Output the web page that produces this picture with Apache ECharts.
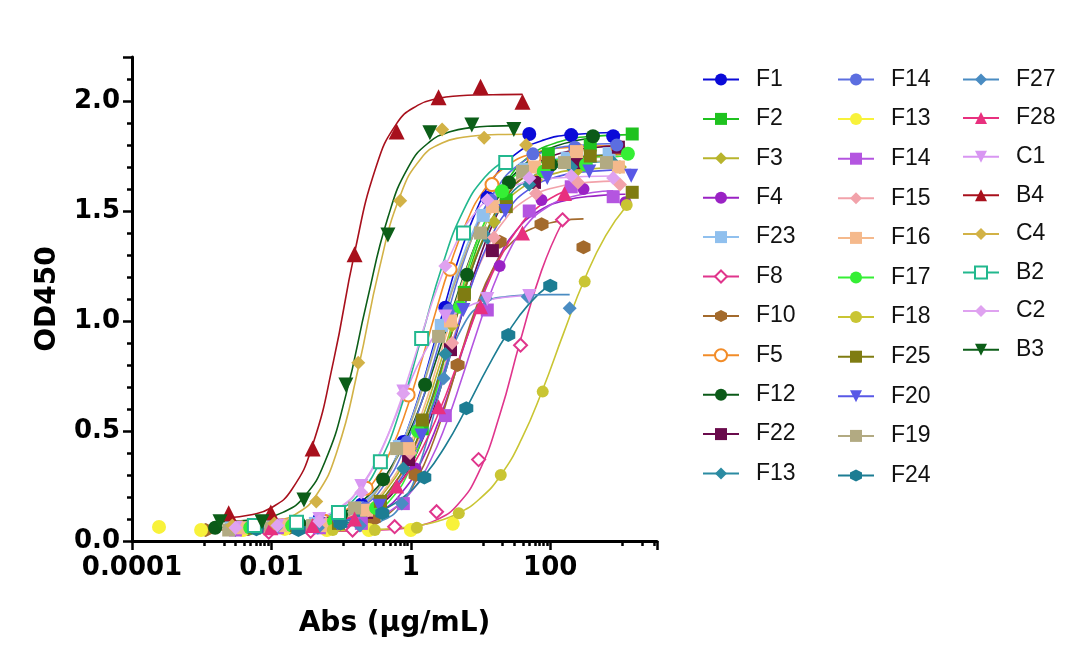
<!DOCTYPE html>
<html><head><meta charset="utf-8">
<script src="https://cdn.jsdelivr.net/npm/echarts@6/dist/echarts.min.js"></script>
<style>html,body{margin:0;padding:0;background:#fff}#c{width:1080px;height:667px}</style>
</head><body><div id="c"></div>
<script>
// ---- tick labels ----
const xTickValues = [0.0001, 0.01, 1, 100];
const xTickLabels = ['0.0001', '0.01', '1', '100'];
const yTickLabels = ['0.0', '0.5', '1.0', '1.5', '2.0'];

// ---- legend names (legend order, 3 columns) ----
const names = ['F1','F2','F3','F4','F23','F8','F10','F5','F12','F22','F13',
               'F14','F13','F14','F15','F16','F17','F18','F25','F20','F19','F24',
               'F27','F28','C1','B4','C4','B2','C2','B3'];

// ---- measured points: concentration (µg/mL) / OD450 ----
const F1_px  = [800,200,50,12.5,3.125,0.781,0.195,0.0488,0.0122,0.00305];
const F1_py  = [1.84,1.845,1.85,1.56,1.06,0.45,0.165,0.10,0.07,0.06];
const F2_px  = [1500,375,93.8,23.4,5.86,1.46,0.366,0.0916,0.0229,0.00572];
const F2_py  = [1.85,1.80,1.76,1.55,1.13,0.51,0.18,0.09,0.07,0.06];
const F3_px  = [1000,250,62.5,15.6,3.91,0.977,0.244,0.061,0.0153,0.0038];
const F3_py  = [1.70,1.69,1.64,1.45,0.98,0.42,0.14,0.08,0.07,0.06];
const F4_px  = [1200,300,75,18.8,4.69,1.17,0.293,0.0732,0.0183,0.00458];
const F4_py  = [1.54,1.60,1.55,1.25,0.80,0.33,0.12,0.07,0.06,0.05];
const F23_px = [700,175,43.8,10.9,2.73,0.684,0.171,0.0427,0.0107,0.00267];
const F23_py = [1.76,1.74,1.69,1.48,0.98,0.43,0.15,0.08,0.07,0.06];
const F8_px  = [150,37.5,9.38,2.34,0.586,0.146,0.0366,0.00916];
const F8_py  = [1.46,0.89,0.37,0.133,0.065,0.05,0.045,0.04];
const F10_px = [300,75,18.8,4.69,1.17,0.293,0.0732,0.0183,0.0046,0.00114];
const F10_py = [1.335,1.44,1.36,0.80,0.30,0.10,0.07,0.06,0.055,0.05];
const F5_px  = [937,234,58.6,14.6,3.66,0.915,0.229,0.0572,0.0143,0.00358];
const F5_py  = [1.79,1.78,1.74,1.62,1.235,0.664,0.24,0.09,0.07,0.06];
const F12_px = [410,103,25.6,6.4,1.6,0.4,0.1,0.025,0.00625,0.00156];
const F12_py = [1.84,1.71,1.63,1.21,0.71,0.28,0.12,0.08,0.07,0.06];
const F22_px = [950,238,59.4,14.8,3.71,0.928,0.232,0.058,0.0145,0.00362];
const F22_py = [1.79,1.72,1.63,1.32,0.87,0.37,0.13,0.08,0.07,0.06];
const F13a_px = [800,200,50,12.5,3.125,0.781,0.195,0.0488,0.0122,0.00305];
const F13a_py = [1.72,1.70,1.62,1.38,0.85,0.33,0.12,0.07,0.06,0.05];
const F14a_px = [900,225,56.3,14.1,3.52,0.879,0.22,0.0549,0.0137,0.00343];
const F14a_py = [1.80,1.79,1.76,1.55,1.05,0.45,0.15,0.08,0.07,0.06];
const F13b_px = [4,1,0.25,0.0625,0.0156,0.0039,0.00098,0.000244];
const F13b_py = [0.078,0.05,0.05,0.05,0.055,0.05,0.05,0.064];
const F14b_px = [800,200,50,12.5,3.125,0.781,0.195,0.0488,0.0122,0.00305];
const F14b_py = [1.565,1.61,1.50,1.05,0.57,0.17,0.08,0.06,0.06,0.05];
const F15_px = [1000,250,62.5,15.6,3.91,0.977,0.244,0.061,0.0153,0.0038];
const F15_py = [1.62,1.63,1.58,1.38,0.90,0.40,0.14,0.08,0.07,0.06];
const F16_px = [950,238,59.4,14.8,3.71,0.928,0.232,0.058,0.0145,0.00362];
const F16_py = [1.70,1.77,1.70,1.52,1.00,0.42,0.14,0.07,0.07,0.06];
const F17_px = [1300,325,81,20.3,5.08,1.27,0.317,0.0793,0.0198,0.00496];
const F17_py = [1.76,1.71,1.68,1.59,1.065,0.50,0.15,0.09,0.07,0.06];
const F18_px = [1250,312,78,19.5,4.88,1.22,0.305,0.076];
const F18_py = [1.527,1.179,0.679,0.30,0.126,0.06,0.05,0.05];
const F25_px = [1500,375,93.8,23.4,5.86,1.46,0.366,0.0916,0.0229,0.00572];
const F25_py = [1.585,1.75,1.72,1.52,1.12,0.55,0.18,0.08,0.07,0.06];
const F20_px = [1450,363,90.6,22.7,5.66,1.42,0.354,0.0885,0.0221,0.00553];
const F20_py = [1.66,1.68,1.65,1.50,1.05,0.48,0.16,0.08,0.07,0.06];
const F19_px = [640,160,40,10,2.5,0.625,0.156,0.039,0.00977,0.00244];
const F19_py = [1.72,1.72,1.68,1.40,0.93,0.42,0.15,0.07,0.06,0.05];
const F24_px = [100,25,6.25,1.56,0.39,0.098,0.0244,0.0061];
const F24_py = [1.16,0.936,0.603,0.289,0.126,0.08,0.05,0.053];
const F27_px = [190,47.5,11.9,2.97,0.742,0.186,0.0464,0.0116];
const F27_py = [1.058,1.11,1.103,0.74,0.17,0.07,0.06,0.06];
const F28_px = [160,40,10,2.5,0.625,0.156,0.039,0.0098];
const F28_py = [1.58,1.40,1.065,0.61,0.25,0.10,0.07,0.06];
const C1_px  = [50,12.5,3.125,0.781,0.195,0.0488,0.0122,0.00305];
const C1_py  = [1.114,1.10,1.02,0.68,0.25,0.10,0.07,0.06];
const B4_px  = [40,10,2.5,0.625,0.156,0.039,0.0098,0.00244];
const B4_py  = [1.997,2.065,2.017,1.861,1.303,0.421,0.129,0.126];
const C4_px  = [45,11.25,2.81,0.703,0.176,0.044,0.011,0.00275];
const C4_py  = [1.80,1.833,1.871,1.547,0.81,0.179,0.08,0.07];
const B2_px  = [23,5.7,1.43,0.366,0.0916,0.0229,0.0057];
const B2_py  = [1.72,1.40,0.92,0.36,0.13,0.085,0.07];
const C2_px  = [800,200,50,12.5,3.125,0.781,0.195,0.0488,0.0122,0.00305];
const C2_py  = [1.65,1.66,1.65,1.55,1.25,0.67,0.22,0.09,0.07,0.06];
const B3_px  = [30,7.5,1.875,0.469,0.117,0.0293,0.00732,0.00183];
const B3_py  = [1.871,1.891,1.856,1.391,0.709,0.186,0.088,0.088];

// ---- fitted curves ----
const F1_cx = [0.00305,0.0245,0.0775,0.1945,0.388,0.690,1.228,1.946,3.085,4.888,8.69,15.46,30.8,77.5,245,800];
const F1_cy = [0.060,0.071,0.099,0.165,0.270,0.418,0.633,0.847,1.073,1.287,1.502,1.650,1.755,1.821,1.849,1.857];
const F2_cx = [0.00572,0.039,0.1232,0.3097,0.618,1.099,1.955,3.098,4.91,7.78,13.84,24.6,49.1,123.3,390,1500];
const F2_cy = [0.060,0.071,0.099,0.164,0.268,0.416,0.630,0.842,1.068,1.280,1.494,1.642,1.746,1.811,1.839,1.847];
const F3_cx = [0.0038,0.031,0.098,0.246,0.491,0.874,1.554,2.462,3.903,6.18,11.0,19.56,39.0,98.0,310,1000];
const F3_cy = [0.060,0.070,0.096,0.155,0.251,0.386,0.582,0.777,0.983,1.178,1.374,1.509,1.605,1.664,1.690,1.697];
const F4_cx = [0.00458,0.049,0.155,0.389,0.777,1.381,2.456,3.892,6.17,9.78,17.39,30.9,61.7,154.9,490,1200];
const F4_cy = [0.050,0.060,0.084,0.139,0.228,0.354,0.537,0.719,0.911,1.093,1.276,1.402,1.491,1.546,1.570,1.576];
const F23_cx = [0.00267,0.023,0.0727,0.1826,0.3646,0.648,1.153,1.827,2.896,4.589,8.16,14.51,28.96,72.7,230,700];
const F23_cy = [0.060,0.071,0.097,0.159,0.258,0.398,0.601,0.803,1.017,1.219,1.422,1.562,1.661,1.723,1.749,1.757];
const F8_cx = [0.00916,0.0183,0.0366,0.073,0.146,0.293,0.586,1.17,2.34,4.69,9.38,18.75,37.5,75,150];
const F8_cy = [0.045,0.045,0.045,0.045,0.046,0.049,0.054,0.066,0.096,0.165,0.311,0.570,0.914,1.229,1.45];
const F10_cx = [0.00114,0.043,0.136,0.341,0.682,1.212,2.155,3.415,5.41,8.58,15.26,27.1,54.1,136,300];
const F10_cy = [0.050,0.054,0.066,0.101,0.168,0.279,0.461,0.654,0.866,1.059,1.241,1.352,1.419,1.454,1.464];
const F5_cx = [0.00358,0.018,0.0569,0.1429,0.2853,0.507,0.902,1.43,2.266,3.591,6.386,11.36,22.66,56.9,180,937];
const F5_cy = [0.061,0.071,0.098,0.161,0.263,0.406,0.614,0.820,1.040,1.246,1.454,1.597,1.699,1.762,1.789,1.798];
const F12_cx = [0.00156,0.0315,0.0995,0.25,0.499,0.888,1.579,2.502,3.966,6.284,11.18,19.88,39.7,99.6,410];
const F12_cy = [0.061,0.082,0.125,0.208,0.325,0.473,0.670,0.857,1.053,1.240,1.437,1.585,1.702,1.785,1.832];
const F22_cx = [0.00362,0.044,0.139,0.349,0.697,1.24,2.205,3.495,5.54,8.78,15.61,27.76,55.4,139.1,440,950];
const F22_cy = [0.060,0.071,0.098,0.161,0.263,0.406,0.614,0.820,1.040,1.246,1.454,1.597,1.699,1.762,1.789,1.795];
const F13a_cx = [0.00305,0.034,0.1074,0.27,0.539,0.958,1.704,2.701,4.281,6.783,12.06,21.45,42.8,107.5,340,800];
const F13a_cy = [0.050,0.061,0.087,0.148,0.246,0.384,0.585,0.784,0.996,1.195,1.396,1.534,1.632,1.693,1.719,1.726];
const F14a_cx = [0.00343,0.0275,0.0869,0.2184,0.436,0.775,1.378,2.184,3.462,5.486,9.757,17.35,34.6,86.96,275,900];
const F14a_cy = [0.060,0.071,0.098,0.162,0.264,0.408,0.617,0.825,1.045,1.253,1.462,1.606,1.708,1.772,1.799,1.807];
const F13b_cx = [];
const F13b_cy = [];
const F14b_cx = [0.00305,0.066,0.2086,0.524,1.046,1.86,3.308,5.242,8.31,13.17,23.42,41.6,83.1,208.7,800];
const F14b_cy = [0.050,0.060,0.084,0.140,0.230,0.358,0.544,0.727,0.923,1.106,1.292,1.420,1.510,1.566,1.592];
const F15_cx = [0.0038,0.0345,0.109,0.274,0.547,0.972,1.729,2.74,4.344,6.883,12.24,21.77,43.4,109.1,345,1000];
const F15_cy = [0.060,0.070,0.095,0.152,0.244,0.374,0.563,0.750,0.950,1.137,1.326,1.456,1.548,1.605,1.630,1.637];
const F16_cx = [0.00362,0.03,0.0948,0.2382,0.4755,0.845,1.504,2.383,3.777,5.985,10.64,18.93,37.8,94.9,300,950];
const F16_cy = [0.060,0.071,0.097,0.158,0.257,0.396,0.598,0.799,1.011,1.212,1.414,1.553,1.652,1.713,1.739,1.747];
const F17_cx = [0.00496,0.035,0.1106,0.278,0.555,0.986,1.754,2.78,4.407,6.983,12.42,22.09,44.1,110.7,350,1300];
const F17_cy = [0.060,0.064,0.079,0.121,0.201,0.333,0.549,0.779,1.031,1.261,1.477,1.609,1.690,1.731,1.746,1.749];
const F18_cx = [0.076,0.152,0.305,0.61,1.22,2.44,4.88,9.75,19.5,39,78,156,312,625,1250];
const F18_cy = [0.047,0.049,0.052,0.058,0.069,0.090,0.127,0.192,0.299,0.465,0.689,0.946,1.191,1.388,1.524];
const F25_cx = [0.00572,0.036,0.1138,0.286,0.571,1.014,1.804,2.859,4.532,7.182,12.77,22.7,45.3,113.8,360,1500];
const F25_cy = [0.060,0.071,0.097,0.159,0.258,0.398,0.601,0.803,1.017,1.219,1.422,1.562,1.661,1.723,1.749,1.758];
const F20_cx = [0.00553,0.038,0.1201,0.302,0.602,1.071,1.905,3.018,4.784,7.581,13.48,23.98,47.8,120.2,380,1450];
const F20_cy = [0.060,0.070,0.096,0.155,0.250,0.384,0.579,0.772,0.978,1.171,1.366,1.500,1.595,1.654,1.680,1.688];
const F19_cx = [0.00244,0.0227,0.0717,0.1802,0.3598,0.640,1.138,1.803,2.858,4.529,8.054,14.32,28.58,71.8,227,640];
const F19_cy = [0.050,0.061,0.087,0.148,0.246,0.384,0.585,0.784,0.996,1.195,1.396,1.534,1.632,1.693,1.719,1.727];
const F24_cx = [0.0061,0.0122,0.0244,0.049,0.098,0.195,0.39,0.78,1.56,3.125,6.25,12.5,25,50,100];
const F24_cy = [0.053,0.055,0.059,0.066,0.078,0.100,0.138,0.199,0.295,0.432,0.603,0.786,0.950,1.079,1.167];
const F27_cx = [0.0116,0.0232,0.0464,0.093,0.186,0.371,0.742,1.48,2.97,5.94,11.9,23.8,47.5,95,190];
const F27_cy = [0.060,0.060,0.060,0.062,0.068,0.089,0.168,0.391,0.744,0.992,1.085,1.111,1.118,1.12,1.12];
const F28_cx = [0.0098,0.053,0.1675,0.421,0.84,1.494,2.656,4.21,6.673,10.57,18.8,33.44,66.7,160];
const F28_cy = [0.064,0.080,0.118,0.191,0.295,0.427,0.602,0.768,0.942,1.108,1.283,1.415,1.518,1.590];
const C1_cx = [0.00305,0.0061,0.0122,0.0244,0.0488,0.0977,0.195,0.39,0.781,1.5625,3.125,6.25,12.5,25,50];
const C1_cy = [0.061,0.063,0.067,0.077,0.099,0.149,0.251,0.425,0.651,0.856,0.992,1.062,1.095,1.109,1.116];
const B4_cx = [0.00244,0.0049,0.0098,0.0195,0.039,0.078,0.156,0.3125,0.625,1.25,2.5,5,10,20,40];
const B4_cy = [0.106,0.118,0.150,0.233,0.436,0.820,1.310,1.694,1.897,1.980,2.012,2.024,2.028,2.029,2.030];
const C4_cx = [0.0055,0.011,0.022,0.044,0.088,0.176,0.352,0.703,1.41,2.81,5.63,11.25,22.5,45];
const C4_cy = [0.077,0.089,0.121,0.208,0.411,0.784,1.236,1.569,1.740,1.809,1.835,1.845,1.848,1.849];
const B2_cx = [0.0057,0.0114,0.0229,0.0458,0.0916,0.183,0.366,0.715,1.43,2.86,5.7,11.5,23];
const B2_cy = [0.073,0.077,0.085,0.102,0.139,0.216,0.364,0.602,0.928,1.257,1.503,1.653,1.731];
const C2_cx = [0.00305,0.012,0.0379,0.0953,0.1902,0.338,0.601,0.953,1.511,2.394,4.258,7.572,15.11,37.9,120,800];
const C2_cy = [0.062,0.070,0.095,0.153,0.246,0.378,0.570,0.759,0.961,1.150,1.342,1.474,1.567,1.625,1.650,1.659];
const B3_cx = [0.00183,0.00366,0.00732,0.0146,0.0293,0.0586,0.117,0.234,0.469,0.9375,1.875,3.75,7.5,15,30];
const B3_cy = [0.088,0.092,0.103,0.130,0.200,0.360,0.663,1.087,1.470,1.704,1.815,1.861,1.879,1.886,1.888];

const PX = [F1_px,F2_px,F3_px,F4_px,F23_px,F8_px,F10_px,F5_px,F12_px,F22_px,F13a_px,
            F14a_px,F13b_px,F14b_px,F15_px,F16_px,F17_px,F18_px,F25_px,F20_px,F19_px,F24_px,
            F27_px,F28_px,C1_px,B4_px,C4_px,B2_px,C2_px,B3_px];
const PY = [F1_py,F2_py,F3_py,F4_py,F23_py,F8_py,F10_py,F5_py,F12_py,F22_py,F13a_py,
            F14a_py,F13b_py,F14b_py,F15_py,F16_py,F17_py,F18_py,F25_py,F20_py,F19_py,F24_py,
            F27_py,F28_py,C1_py,B4_py,C4_py,B2_py,C2_py,B3_py];
const CX = [F1_cx,F2_cx,F3_cx,F4_cx,F23_cx,F8_cx,F10_cx,F5_cx,F12_cx,F22_cx,F13a_cx,
            F14a_cx,F13b_cx,F14b_cx,F15_cx,F16_cx,F17_cx,F18_cx,F25_cx,F20_cx,F19_cx,F24_cx,
            F27_cx,F28_cx,C1_cx,B4_cx,C4_cx,B2_cx,C2_cx,B3_cx];
const CY = [F1_cy,F2_cy,F3_cy,F4_cy,F23_cy,F8_cy,F10_cy,F5_cy,F12_cy,F22_cy,F13a_cy,
            F14a_cy,F13b_cy,F14b_cy,F15_cy,F16_cy,F17_cy,F18_cy,F25_cy,F20_cy,F19_cy,F24_cy,
            F27_cy,F28_cy,C1_cy,B4_cy,C4_cy,B2_cy,C2_cy,B3_cy];

// ---- styles ----
const colors = ['#0a0ad8','#1fc21f','#b8b42c','#9a22c4','#90c0ee','#e0358c','#a36a2c','#f28c28','#0b5a18','#6a0b4c','#2b8ba2',
                '#5c6ee0','#f8f23a','#b455e0','#f2a2aa','#f5b98c','#35ef35','#c9c533','#7f7c12','#5858e6','#b2aa82','#1c7d93',
                '#4a8cc2','#e8307e','#d896f2','#a8101c','#d2b246','#22b88e','#dfa2f0','#0c5e18'];
const TRI_DOWN = 'path://M0,0 L10,0 L5,9 Z';
const HEX = 'path://M5,0 L9.33,2.5 L9.33,7.5 L5,10 L0.67,7.5 L0.67,2.5 Z';
const symbols = ['circle','rect','diamond','circle','rect','emptyDiamond',HEX,'emptyCircle','circle','rect','diamond',
                 'circle','circle','rect','diamond','rect','circle','circle','rect',TRI_DOWN,'rect',HEX,
                 'diamond','triangle',TRI_DOWN,'triangle','diamond','emptyRect','diamond',TRI_DOWN];
const sizes = [14,13,14,12,13,13,14,13,14,13,14,
               13,14,13,14,13,14,12,13,14,13,14,
               14,15,14,16,14,13,14,15];

const chart = echarts.init(document.getElementById('c'));
const AXIS_FONT = {fontFamily:'DejaVu Sans', fontWeight:'bold', color:'#000'};
const isEmpty = s => s.startsWith('empty');

const curveSeries = names.map((n,i)=>({
  name: n + '#' + i,
  type: 'line',
  data: CX[i].map((x,j)=>[x, CY[i][j]]),
  smooth: 0.5,
  symbol: symbols[i],
  symbolSize: sizes[i],
  showSymbol: false,
  color: colors[i],
  lineStyle: {width: 1.6, color: colors[i]},
  itemStyle: {color: colors[i], borderColor: colors[i], borderWidth: isEmpty(symbols[i]) ? 2.5 : 0},
  emphasis: {disabled: true},
  z: 2,
  animation: false
}));
const pointSeries = names.map((n,i)=>({
  name: n + '#' + i + '_pts',
  type: 'scatter',
  data: PX[i].map((x,j)=>[x, PY[i][j]]),
  symbol: symbols[i],
  symbolSize: sizes[i],
  itemStyle: {color: colors[i], borderColor: colors[i], borderWidth: isEmpty(symbols[i]) ? 2.5 : 0, opacity: 1},
  emphasis: {disabled: true},
  z: 3,
  animation: false
}));

function legendCol(from, to, left, gap){
  const data = [];
  for (let i = from; i < to; i++) data.push({name: names[i] + '#' + i});
  return {
    orient: 'vertical', left: left, top: 63, itemWidth: 36, itemHeight: 15, itemGap: gap,
    selectedMode: false,
    formatter: name => name.split('#')[0],
    textStyle: {fontFamily: 'Liberation Sans', fontSize: 23, color: '#111', lineHeight: 20, padding: [0,0,0,12]},
    data: data
  };
}

chart.setOption({
  backgroundColor: '#fff',
  animation: false,
  grid: {left: 132, right: 423, top: 57, bottom: 126},
  legend: [legendCol(0, 11, 697, 16.4), legendCol(11, 22, 832, 16.6), legendCol(22, 30, 957, 15.6)],
  xAxis: {
    type: 'log', logBase: 100, min: 0.0001, max: 3400,
    axisLine: {show: true, onZero: false, lineStyle: {color: '#000', width: 3}},
    axisTick: {show: true, inside: false, length: 9, lineStyle: {color: '#000', width: 2.5}},
    minorTick: {show: true, splitNumber: 10, length: 5, lineStyle: {color: '#000', width: 2.5}},
    splitLine: {show: false}, minorSplitLine: {show: false},
    axisLabel: Object.assign({fontSize: 26, margin: 14, showMaxLabel: false,
      formatter: v => { for (let k = 0; k < xTickValues.length; k++) { if (Math.abs(Math.log10(v) - Math.log10(xTickValues[k])) < 1e-6) return xTickLabels[k]; } return ''; }
    }, AXIS_FONT),
    name: 'Abs (μg/mL)', nameLocation: 'middle', nameGap: 69,
    nameTextStyle: Object.assign({fontSize: 28}, AXIS_FONT)
  },
  yAxis: {
    type: 'value', min: 0, max: 2.2, interval: 0.5,
    axisLine: {show: true, lineStyle: {color: '#000', width: 3}},
    axisTick: {show: true, inside: false, length: 9, lineStyle: {color: '#000', width: 2.5}},
    minorTick: {show: true, splitNumber: 5, length: 5, lineStyle: {color: '#000', width: 2.5}},
    splitLine: {show: false},
    axisLabel: Object.assign({fontSize: 26, margin: 12, showMaxLabel: false,
      formatter: v => { const k = Math.round(v / 0.5); return (Math.abs(v - k * 0.5) < 1e-6 && yTickLabels[k]) ? yTickLabels[k] : ''; }
    }, AXIS_FONT),
    name: 'OD450', nameLocation: 'middle', nameGap: 70, nameRotate: 90,
    nameTextStyle: Object.assign({fontSize: 28}, AXIS_FONT)
  },
  series: curveSeries.concat(pointSeries)
});
</script></body></html>
